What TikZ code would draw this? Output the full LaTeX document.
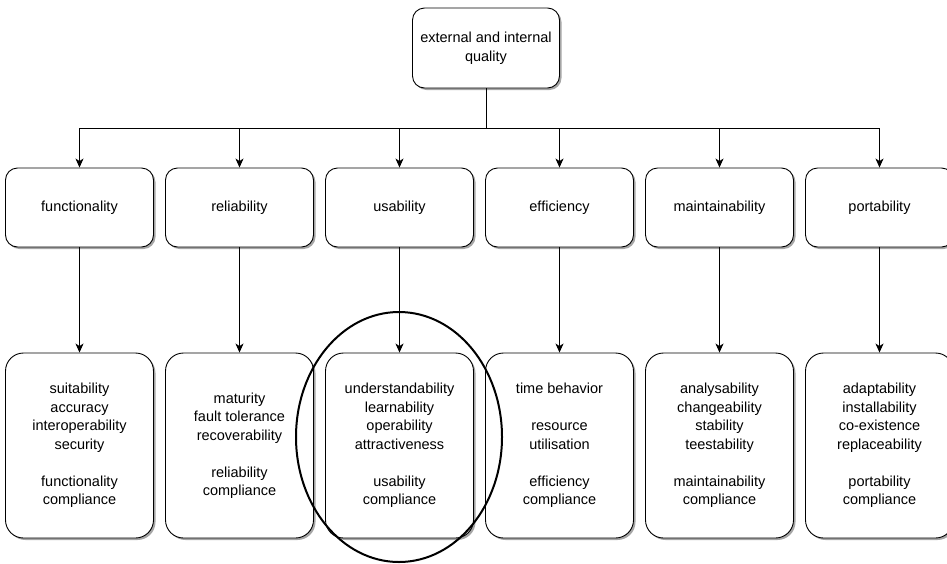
\documentclass[tikz,border=0pt]{standalone}
\usepackage{fontspec}
\setmainfont{Liberation Sans}
\usetikzlibrary{arrows.meta,shadows,positioning}

\begin{document}
\begin{tikzpicture}[x=1pt,y=-1pt,->,>={Stealth[length=9pt,width=8pt,inset=2.5pt]},
                    node distance=160pt,line width=1pt,
                    font=\fontsize{14.5}{18.5}\selectfont,
                    box/.style={draw,-,fill=white,align=center,inner sep=2pt,
                                line width=0.9pt,
                                drop shadow={shadow xshift=2pt,shadow yshift=-2pt,
                                             opacity=0.35,fill=black}},
                    group/.style={box,rounded corners=12pt,
                                  minimum width=148pt,minimum height=79pt},
                    detail/.style={box,rounded corners=18pt,
                                   minimum width=148pt,minimum height=185pt}]

  \path[use as bounding box,fill=white] (0,0) rectangle (947,563);

  \node[group,minimum width=147pt,minimum height=80pt]
                  (quality) at (486,48)    {external and internal\\quality};

  \node[group]    (fun) at (79.5,207.5)    {functionality};
  \node[group]    (rel) [right of=fun]     {reliability};
  \node[group]    (usa) [right of=rel]     {usability};
  \node[group]    (eff) [right of=usa]     {efficiency};
  \node[group]    (mai) [right of=eff]     {maintainability};
  \node[group]    (por) [right of=mai]     {portability};

  \node[detail]   (funx) at (79.5,445.5)   {suitability\\accuracy\\interoperability\\security\\[18.5pt]
                                            functionality\\compliance};
  \node[detail]   (relx) [right of=funx]   {maturity\\fault tolerance\\recoverability\\[18.5pt]
                                            reliability\\compliance};
  \node[detail]   (usax) [right of=relx]   {understandability\\learnability\\operability\\attractiveness\\[18.5pt]
                                            usability\\compliance};
  \node[detail]   (effx) [right of=usax]   {time behavior\\[18.5pt]resource\\utilisation\\[18.5pt]
                                            efficiency\\compliance};
  \node[detail]   (maix) [right of=effx]   {analysability\\changeability\\stability\\teestability\\[18.5pt]
                                            maintainability\\compliance};
  \node[detail]   (porx) [right of=maix]   {adaptability\\installability\\co-existence\\replaceability\\[18.5pt]
                                            portability\\compliance};

  \coordinate (bus) at (0,128);

  \foreach \n in {fun,rel,usa,eff,mai,por}
    \draw (quality) -- (quality |- bus) -| (\n);

  \path (fun) edge (funx)
        (rel) edge (relx)
        (usa) edge (usax)
        (eff) edge (effx)
        (mai) edge (maix)
        (por) edge (porx);

  % highlight round usability
  \draw[-,line width=2pt] (399,437) ellipse [x radius=103pt,y radius=125pt];
\end{tikzpicture}
\end{document}
